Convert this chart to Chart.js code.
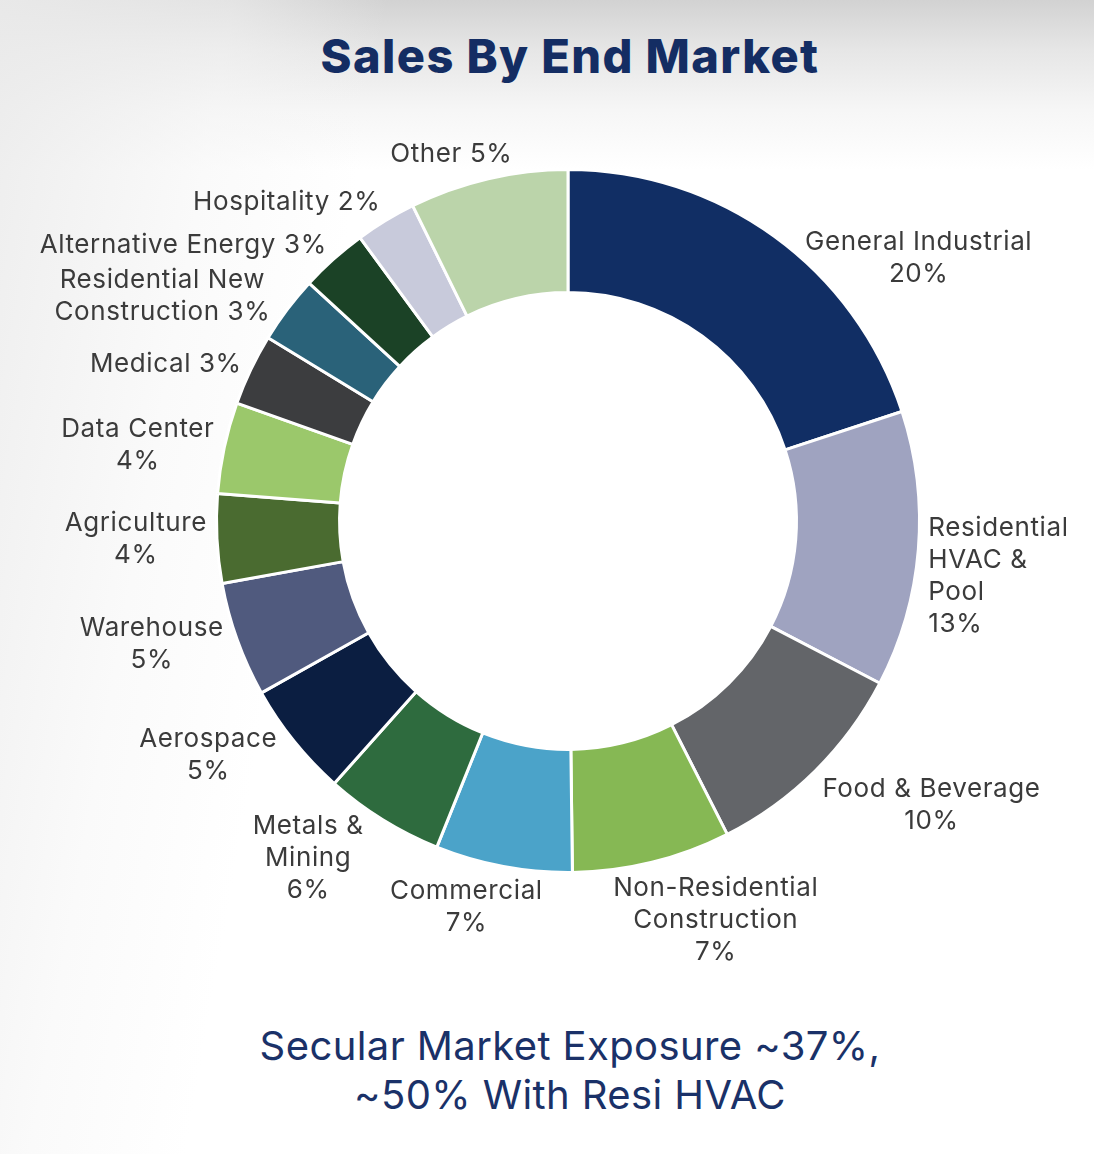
<!DOCTYPE html>
<html>
<head>
<meta charset="utf-8">
<script src="https://cdn.jsdelivr.net/npm/chart.js@4.4.1/dist/chart.umd.min.js"></script>
<style>
  html, body { margin: 0; padding: 0; }
  body {
    width: 1094px; height: 1154px; position: relative; overflow: hidden;
    background:
      linear-gradient(100deg, rgba(235,235,235,0.9) 0%, rgba(245,245,245,0.5) 18%, rgba(255,255,255,0) 30%),
      linear-gradient(180deg, #d2d2d2 0px, #e6e6e6 50px, #f6f6f6 110px, #ffffff 170px);
    font-family: Inter, "Noto Sans", sans-serif;
  }
  #title {
    position: absolute; left: 0; width: 1140px; top: 27px;
    text-align: center; font-size: 47px; font-weight: 800; color: #142d63;
    letter-spacing: 1.4px;
  }
  #subtitle {
    position: absolute; left: 0; width: 1140px; top: 1021px;
    text-align: center; font-size: 40px; font-weight: 400; color: #1a3168;
    line-height: 49px; letter-spacing: 0.4px;
  }
  #wrap { position: absolute; left: 0; top: 0; width: 1094px; height: 1154px; }
</style>
</head>
<body>
<div id="title">Sales By End Market</div>
<div id="subtitle">Secular Market Exposure ~37%,<br>~50% With Resi HVAC</div>
<div id="wrap"><canvas id="pieChart"></canvas></div>
<script>
const labels = [
    'General Industrial\n20%',
    'Residential\nHVAC &\nPool\n13%',
    'Food & Beverage\n10%',
    'Non-Residential\nConstruction\n7%',
    'Commercial\n7%',
    'Metals &\nMining\n6%',
    'Aerospace\n5%',
    'Warehouse\n5%',
    'Agriculture\n4%',
    'Data Center\n4%',
    'Medical 3%',
    'Residential New\nConstruction 3%',
    'Alternative Energy 3%',
    'Hospitality 2%',
    'Other 5%'
];
const shares = [20.0, 12.7, 9.9, 7.3, 6.3, 5.5, 5.3, 5.3, 4.1, 4.2, 3.3, 3.1, 3.1, 2.8, 7.3];
const colors = [
    '#112e64', '#9fa3c0', '#636569', '#86b854', '#4ba3c9',
    '#2e6b3e', '#0b1e41', '#505a7e', '#4a6b30', '#9bc86b',
    '#3c3d3f', '#2a6279', '#1b4226', '#c8cadb', '#bbd4aa'
];

// draws the outside labels next to each slice
const outsideLabels = {
    id: 'outsideLabels',
    afterDatasetsDraw(chart) {
        const ctx = chart.ctx;
        const meta = chart.getDatasetMeta(0);
        const fontSize = 26;
        const lineH = 32;
        ctx.save();
        ctx.font = fontSize + 'px Inter, "Noto Sans", sans-serif';
        ctx.letterSpacing = '0.6px';
        ctx.fillStyle = '#3b3b3b';
        ctx.textBaseline = 'middle';
        meta.data.forEach((arc, i) => {
            const p = arc.getProps(['x', 'y', 'startAngle', 'endAngle', 'outerRadius'], true);
            const mid = (p.startAngle + p.endAngle) / 2;
            const ux = Math.cos(mid);
            const uy = Math.sin(mid);
            const lines = labels[i].split('\n');
            const widths = lines.map(l => ctx.measureText(l).width);
            const w = Math.max(...widths);
            const h = lines.length * lineH;
            const r = p.outerRadius + 10;
            const px = p.x + r * ux;
            const py = p.y + r * uy;
            const sx = Math.max(-1, Math.min(1, ux * 2.5));
            // right hand labels hang below their anchor, left hand ones sit level
            const sy = ux > 0 ? 1 - 0.6 * Math.pow(ux, 4) : uy * uy * uy;
            let cx = px + (w / 2) * sx;
            let cy = py + (h / 2) * sy;
            const leftAlign = ux > 0.95;

            // nearest distance from ring centre to any text line box
            const clearance = () => Math.min(...lines.map((l, j) => {
                const lw = widths[j];
                const x0 = leftAlign ? cx - w / 2 : cx - lw / 2;
                const y0 = cy - h / 2 + lineH * j + 4;
                const nx = Math.max(x0, Math.min(p.x, x0 + lw));
                const ny = Math.max(y0, Math.min(p.y, y0 + lineH - 8));
                return Math.hypot(nx - p.x, ny - p.y);
            }));
            // push the label sideways (or up/down near the poles) until it clears the ring
            let guard = 0;
            while (clearance() < p.outerRadius + 5 && guard++ < 200) {
                if (Math.abs(ux) >= 0.3) cx += ux >= 0 ? 1 : -1;
                else cy += uy >= 0 ? 1 : -1;
            }

            ctx.textAlign = leftAlign ? 'left' : 'center';
            lines.forEach((line, j) => {
                const ty = cy - h / 2 + lineH * (j + 0.5);
                ctx.fillText(line, leftAlign ? cx - w / 2 : cx, ty);
            });
        });
        ctx.restore();
    }
};

function initChart() {
    const ctx = document.getElementById('pieChart').getContext('2d');
    new Chart(ctx, {
        type: 'doughnut',
        data: {
            labels: labels,
            datasets: [{
                data: shares,
                backgroundColor: colors,
                borderColor: '#ffffff',
                borderWidth: 3,
                hoverOffset: 0
            }]
        },
        options: {
            responsive: true,
            maintainAspectRatio: false,
            animation: false,
            cutout: '65%',
            layout: {
                padding: { left: 215, right: 173, top: 168, bottom: 280 }
            },
            plugins: {
                legend: { display: false },
                tooltip: { enabled: false }
            }
        },
        plugins: [outsideLabels]
    });
}

initChart();
</script>
</body>
</html>
